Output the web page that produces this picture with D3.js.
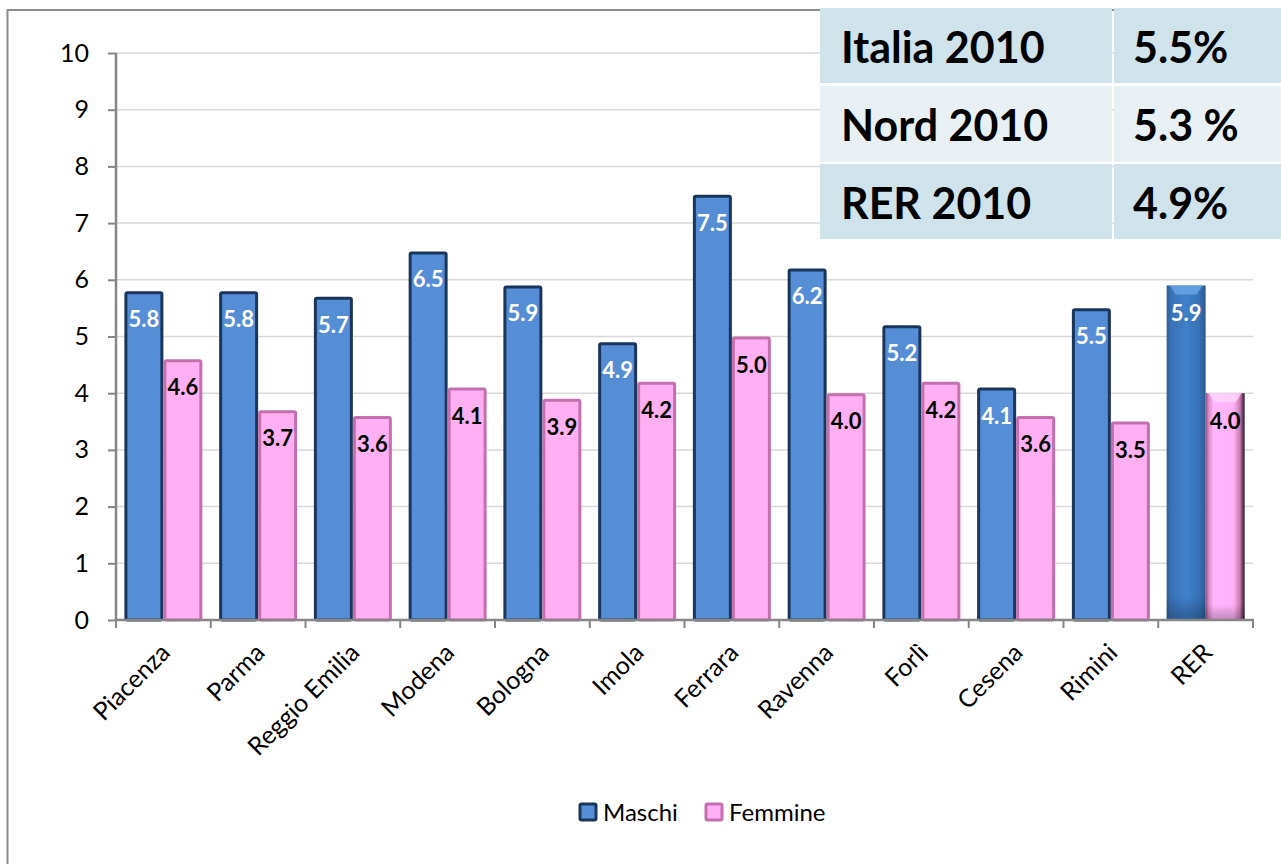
<!DOCTYPE html>
<html><head><meta charset="utf-8">
<script src="https://cdn.jsdelivr.net/npm/d3@7"></script>
<style>body{margin:0;background:#fff}svg{display:block}</style>
</head><body>
<svg id="c" width="1281" height="864"></svg>
<script>
const categories = ["Piacenza","Parma","Reggio Emilia","Modena","Bologna","Imola","Ferrara","Ravenna","Forlì","Cesena","Rimini","RER"];
const maschi  = [5.8,5.8,5.7,6.5,5.9,4.9,7.5,6.2,5.2,4.1,5.5,5.9];
const femmine = [4.6,3.7,3.6,4.1,3.9,4.2,5.0,4.0,4.2,3.6,3.5,4.0];
const seriesNames = ["Maschi","Femmine"];
const yTicks = [0,1,2,3,4,5,6,7,8,9,10];
const tableLabels = ["Italia 2010","Nord 2010","RER 2010"];
const tableValues = ["5.5%","5.3 %","4.9%"];

const FONT = "Lato, Carlito, Calibri, 'Open Sans', sans-serif";
const svg = d3.select("#c");
const defs = svg.append("defs");

const gb = defs.append("linearGradient").attr("id","gBlue").attr("x1",0).attr("x2",1).attr("y1",0).attr("y2",0);
[[0,"#2f5f98"],[0.12,"#3a72b5"],[0.5,"#3f80c9"],[0.85,"#3670b2"],[1,"#2a5a90"]].forEach(([o,c])=>gb.append("stop").attr("offset",o).attr("stop-color",c));
const gp = defs.append("linearGradient").attr("id","gPink").attr("x1",0).attr("x2",1).attr("y1",0).attr("y2",0);
[[0,"#8a4a7c"],[0.08,"#d98ccb"],[0.2,"#ffb6fb"],[0.72,"#ffb0f6"],[0.88,"#c77ab2"],[1,"#2a1424"]].forEach(([o,c])=>gp.append("stop").attr("offset",o).attr("stop-color",c));
const gv = defs.append("linearGradient").attr("id","gVert").attr("x1",0).attr("x2",0).attr("y1",0).attr("y2",1);
[[0,"#000",0.0],[0.93,"#000",0.0],[1,"#000",0.25]].forEach(([o,c,a])=>gv.append("stop").attr("offset",o).attr("stop-color",c).attr("stop-opacity",a));

// outer frame
svg.append("rect").attr("x",7.5).attr("y",10).attr("width",1400).attr("height",1000)
  .attr("fill","none").attr("stroke","#8c8c8c").attr("stroke-width",2);

const x0 = d3.scaleBand().domain(categories).range([116,1253]).padding(0);
const x1 = d3.scaleBand().domain(seriesNames).range([0,x0.bandwidth()]).paddingInner(0).paddingOuter(0.215);
const y = d3.scaleLinear().domain([0,10]).range([620,53]);

// gridlines
svg.append("g").selectAll("line").data(yTicks.filter(d=>d>0)).join("line")
  .attr("x1",116).attr("x2",1253).attr("y1",d=>y(d)).attr("y2",d=>y(d))
  .attr("stroke","#d9d9d9").attr("stroke-width",1.5);

const rows = categories.map((c,i)=>({c,i,vals:[{s:"Maschi",v:maschi[i]},{s:"Femmine",v:femmine[i]}]}));
svg.append("g").selectAll("g").data(rows).join("g")
  .attr("transform",r=>`translate(${x0(r.c)},0)`)
  .each(function(r){
  const g = d3.select(this);
  const isRER = r.c === "RER";
  r.vals.forEach(d=>{
    const bx = x1(d.s), bw = x1.bandwidth(), by = y(d.v), bh = y(0)-y(d.v);
    if(!isRER){
      g.append("rect").attr("x",bx+1.5).attr("y",by+1.5).attr("width",bw-3).attr("height",bh-1.5)
        .attr("rx",1.5)
        .attr("fill", d.s==="Maschi" ? "#558ed5" : "#ffb0f2")
        .attr("stroke", d.s==="Maschi" ? "#1b365c" : "#c46fae")
        .attr("stroke-width",3);
    } else {
      g.append("rect").attr("x",bx).attr("y",by).attr("width",bw).attr("height",bh)
        .attr("fill", d.s==="Maschi" ? "url(#gBlue)" : "url(#gPink)");
      g.append("rect").attr("x",bx).attr("y",by).attr("width",bw).attr("height",bh)
        .attr("fill","url(#gVert)");
      g.append("path")
        .attr("d",`M${bx+3},${by} L${bx+bw-3},${by} L${bx+bw-9},${by+9} L${bx+9},${by+9} Z`)
        .attr("fill", d.s==="Maschi" ? "#6aa6e6" : "#ffd6ff").attr("opacity",0.8);
    }
    g.append("text").attr("x",bx+bw/2).attr("y",by+36)
      .attr("text-anchor","middle").attr("font-family",FONT).attr("font-weight","bold")
      .attr("font-size",22).attr("fill", d.s==="Maschi" ? "#ffffff" : "#000000")
      .text(d3.format(".1f")(d.v));
  });
});

// y axis
const yAxis = svg.append("g").attr("transform","translate(116,0)")
  .call(d3.axisLeft(y).tickValues(yTicks).tickSize(8).tickPadding(19).tickFormat(d3.format("d")));
yAxis.select(".domain").attr("stroke","#868686").attr("stroke-width",2.5).attr("d","M0,53V620");
yAxis.selectAll(".tick line").attr("stroke","#868686").attr("stroke-width",2);
yAxis.selectAll("text").attr("font-family",FONT).attr("font-size",25).attr("fill","#000");

// x axis
const xAxis = svg.append("g").attr("transform","translate(0,620)");
xAxis.append("line").attr("x1",116).attr("x2",1254).attr("y1",0).attr("y2",0).attr("stroke","#868686").attr("stroke-width",2.5);
const bounds = categories.map(c=>x0(c)).concat([x0(categories[categories.length-1])+x0.bandwidth()]);
xAxis.selectAll("line.t").data(bounds).join("line").attr("class","t")
  .attr("x1",d=>d).attr("x2",d=>d).attr("y1",0).attr("y2",8).attr("stroke","#868686").attr("stroke-width",2);
xAxis.selectAll("text").data(categories).join("text")
  .attr("transform",d=>`translate(${x0(d)+x0.bandwidth()/2+2},${28}) rotate(-45)`)
  .attr("text-anchor","end").attr("dy","0.35em")
  .attr("font-family",FONT).attr("font-size",25).attr("fill","#000").text(d=>d);

// legend
const legend = svg.append("g");
const legItems = [{n:seriesNames[0],f:"#558ed5",s:"#1b365c",x:580},{n:seriesNames[1],f:"#ffb0f2",s:"#c46fae",x:706}];
legItems.forEach(l=>{
  legend.append("rect").attr("x",l.x).attr("y",804).attr("width",16).attr("height",16).attr("rx",1.5)
    .attr("fill",l.f).attr("stroke",l.s).attr("stroke-width",3);
  legend.append("text").attr("x",l.x+23).attr("y",821).attr("font-family",FONT).attr("font-size",24)
    .attr("fill","#000").text(l.n);
});

// table
const tbl = svg.append("g");
const rowY = [8,86,164], rowH = [75,76,75];
const rowFill = ["#d0e2ea","#e8f0f4","#d0e2ea"];
tableLabels.forEach((t,i)=>{
  tbl.append("rect").attr("x",820).attr("y",rowY[i]).attr("width",292).attr("height",rowH[i]).attr("fill",rowFill[i]);
  tbl.append("rect").attr("x",1114).attr("y",rowY[i]).attr("width",167).attr("height",rowH[i]).attr("fill",rowFill[i]);
  tbl.append("text").attr("x",841).attr("y",rowY[i]+55).attr("font-family",FONT).attr("font-weight","bold")
    .attr("font-size",43).attr("fill","#000").text(t);
  tbl.append("text").attr("x",1133).attr("y",rowY[i]+55).attr("font-family",FONT).attr("font-weight","bold")
    .attr("font-size",43).attr("fill","#000").text(tableValues[i]);
});
</script>
</body></html>
